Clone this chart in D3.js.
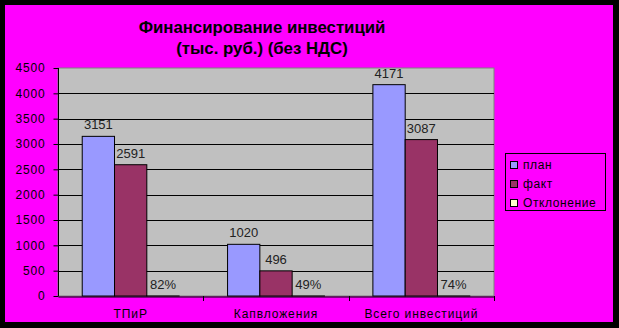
<!DOCTYPE html>
<html>
<head>
<meta charset="utf-8">
<script src="https://cdn.jsdelivr.net/npm/d3@7"></script>
<style>
  body { margin: 0; background: #000; }
  text { font-family: Arial, "Liberation Sans", sans-serif; }
</style>
</head>
<body>
<div class="container"></div>
<script>
// categories and series
const categories = ["ТПиР", "Капвложения", "Всего инвестиций"];
const seriesNames = ["план", "факт", "Отклонение"];
const plan = [3151, 1020, 4171];
const fact = [2591, 496, 3087];
const deviation = [0.82, 0.49, 0.74];
const yTicks = [0, 500, 1000, 1500, 2000, 2500, 3000, 3500, 4000, 4500];

const colors = ["#9999FF", "#993366", "#FFFFCC"];

const width = 619;
const height = 328;
const plotLeft = 58, plotRight = 494, plotTop = 68, plotBottom = 296;

const svg = d3.select(".container")
              .append("svg")
              .attr("width", width)
              .attr("height", height);

// black frame and magenta chart area
svg.append("rect").attr("width", width).attr("height", height).attr("fill", "#000");
svg.append("rect")
   .attr("x", 5).attr("y", 5)
   .attr("width", 608).attr("height", 317)
   .attr("fill", "#FF00FF");

// title
const title = svg.append("text")
   .attr("text-anchor", "middle")
   .style("font-weight", "bold")
   .style("font-size", "16.8px");
title.append("tspan").attr("x", 262).attr("y", 33).text("Финансирование инвестиций");
title.append("tspan").attr("x", 262).attr("y", 54).text("(тыс. руб.) (без НДС)");

// scales
const x0 = d3.scaleBand()
             .domain(categories)
             .range([plotLeft, plotRight])
             .paddingInner(0)
             .paddingOuter(0);

const x1 = d3.scaleBand()
             .domain(d3.range(seriesNames.length))
             .range([0, x0.bandwidth()])
             .paddingInner(0)
             .paddingOuter(0.75);

const y = d3.scaleLinear()
            .domain([0, 4500])
            .range([plotBottom, plotTop]);

// plot area background
svg.append("rect")
   .attr("x", plotLeft).attr("y", plotTop)
   .attr("width", plotRight - plotLeft).attr("height", plotBottom - plotTop)
   .attr("fill", "#C0C0C0")
   .attr("stroke", "#808080");

// gridlines
svg.append("g")
   .selectAll("line")
   .data(yTicks.filter(t => t > 0 && t < 4500))
   .enter()
   .append("line")
   .attr("x1", plotLeft).attr("x2", plotRight)
   .attr("y1", d => Math.round(y(d)) + 0.5)
   .attr("y2", d => Math.round(y(d)) + 0.5)
   .attr("stroke", "#000");

// bars
const rows = categories.map((c, i) => ({
  cat: c,
  values: [plan[i], fact[i], deviation[i]]
}));

const groups = svg.append("g")
   .selectAll("g")
   .data(rows)
   .enter()
   .append("g")
   .attr("transform", d => "translate(" + x0(d.cat) + ",0)");

groups.selectAll("rect")
   .data(d => d.values.map((v, k) => ({ v: v, k: k })))
   .enter()
   .append("rect")
   .attr("x", d => x1(d.k))
   .attr("y", d => y(d.v))
   .attr("width", x1.bandwidth())
   .attr("height", d => plotBottom - y(d.v))
   .attr("fill", d => colors[d.k])
   .attr("stroke", "#000")
   .attr("stroke-width", 1);

// data labels
groups.selectAll("text")
   .data(d => d.values.map((v, k) => ({ v: v, k: k })))
   .enter()
   .append("text")
   .attr("x", d => x1(d.k) + x1.bandwidth() / 2)
   .attr("y", d => y(d.v) - 7)
   .attr("text-anchor", "middle")
   .style("font-size", "13px")
   .attr("fill", "#222")
   .text(d => d.k === 2 ? d3.format(".0%")(d.v) : d.v);

// y axis
const yAxis = d3.axisLeft(y).tickValues(yTicks).tickSize(5).tickPadding(8).tickFormat(d3.format("d"));
const gy = svg.append("g")
   .attr("transform", "translate(" + (plotLeft + 0.5) + ",0)")
   .call(yAxis);
gy.select(".domain").attr("stroke", "#000").attr("d", "M0," + plotTop + "V" + plotBottom);
gy.selectAll(".tick line").attr("stroke", "#000");
gy.selectAll(".tick text")
  .style("font-size", "12px")
  .style("letter-spacing", "0.8px")
  .attr("fill", "#000");

// x axis
const xAxis = d3.axisBottom(x0).tickSize(0).tickPadding(13).tickSizeOuter(0);
const gx = svg.append("g")
   .attr("transform", "translate(0," + (plotBottom + 0.5) + ")")
   .call(xAxis);
gx.select(".domain").attr("stroke", "#000");
gx.selectAll(".tick text")
  .style("font-size", "12px")
  .style("letter-spacing", "0.9px")
  .attr("fill", "#000");

// category separators
svg.append("g")
   .selectAll("line")
   .data(categories)
   .enter()
   .append("line")
   .attr("x1", d => Math.round(x0(d) + x0.bandwidth()) + 0.5)
   .attr("x2", d => Math.round(x0(d) + x0.bandwidth()) + 0.5)
   .attr("y1", plotBottom)
   .attr("y2", plotBottom + 5)
   .attr("stroke", "#000");

// legend
const legend = svg.append("g").attr("id", "legend");
legend.append("rect")
   .attr("x", 505.5).attr("y", 153.5)
   .attr("width", 100).attr("height", 57)
   .attr("fill", "#FF00FF")
   .attr("stroke", "#000");

seriesNames.forEach((name, i) => {
  legend.append("rect")
     .attr("x", 510.5).attr("y", 161.5 + i * 19)
     .attr("width", 7).attr("height", 7)
     .attr("fill", colors[i])
     .attr("stroke", "#000");
  legend.append("text")
     .attr("x", 523).attr("y", 169 + i * 19)
     .style("font-size", "12px")
     .style("letter-spacing", "0.6px")
     .attr("fill", "#000")
     .text(name);
});
</script>
</body>
</html>
